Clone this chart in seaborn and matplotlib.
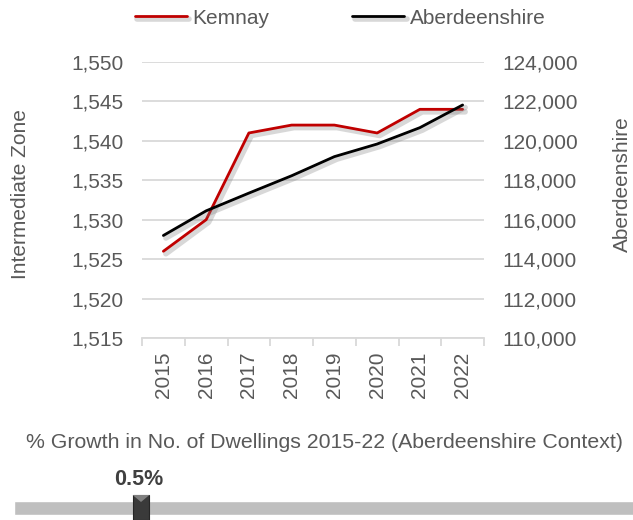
import numpy as np
import pandas as pd
import matplotlib
matplotlib.use("Agg")
import matplotlib.pyplot as plt
import matplotlib.patheffects as pe
from matplotlib.ticker import FuncFormatter
from matplotlib.patches import Rectangle, Polygon
import seaborn as sns

years = ["2015", "2016", "2017", "2018", "2019", "2020", "2021", "2022"]
kemnay = [1526, 1530, 1541, 1542, 1542, 1541, 1544, 1544]
aberdeenshire = [115200, 116450, 117350, 118230, 119200, 119840, 120670, 121820]
growth_pct = 0.5
growth_title = "% Growth in No. of Dwellings 2015-22 (Aberdeenshire Context)"

sns.set_style("white")
plt.rcParams["font.family"] = ["Liberation Sans", "DejaVu Sans"]

grey_txt = "#595959"
grid_col = "#D9D9D9"
red = "#C00000"

df = pd.DataFrame({"pos": np.arange(len(years)), "year": years,
                   "Kemnay": kemnay, "Aberdeenshire": aberdeenshire})

fig = plt.figure(figsize=(6.33, 5.2), dpi=100)
ax = fig.add_axes([142 / 633, 1 - 338 / 520, 342 / 633, 276 / 520])
ax2 = ax.twinx()

shadow = [pe.SimpleLineShadow(offset=(1.8, -1.8), shadow_color="#7f7f7f", alpha=0.3, linewidth=4),
          pe.Normal()]
sns.lineplot(data=df, x="pos", y="Kemnay", ax=ax, color=red, lw=2.0,
             path_effects=shadow, label="Kemnay", legend=False)
sns.lineplot(data=df, x="pos", y="Aberdeenshire", ax=ax2, color="black", lw=2.0,
             path_effects=shadow, label="Aberdeenshire", legend=False)

fs = 15
ax.set_xlim(-0.5, len(years) - 0.5)
ax.set_ylim(1515, 1550)
ax.set_yticks(np.arange(1515, 1551, 5))
ax2.set_ylim(110000, 124000)
ax2.set_yticks(np.arange(110000, 124001, 2000))
comma = FuncFormatter(lambda v, p: f"{v:,.0f}")
ax.yaxis.set_major_formatter(comma)
ax2.yaxis.set_major_formatter(comma)

ax.set_xticks(np.arange(-0.5, len(years)))
ax.set_xticklabels([])
ax.set_xticks(df["pos"], minor=True)
ax.set_xticklabels(years, minor=True, rotation=90)
ax.tick_params(axis="x", which="major", length=6, width=1.3, color=grid_col, bottom=True)
ax.tick_params(axis="x", which="minor", length=0, pad=10, labelsize=fs, labelcolor=grey_txt)
ax.tick_params(axis="y", length=0, pad=13.5, labelsize=fs, labelcolor=grey_txt)
ax2.tick_params(axis="y", length=0, pad=13.5, labelsize=fs, labelcolor=grey_txt)

ax.yaxis.grid(True, color=grid_col, lw=1.3)
ax.xaxis.grid(False)
ax2.grid(False)
for s in ["top", "left", "right"]:
    ax.spines[s].set_visible(False)
    ax2.spines[s].set_visible(False)
ax.spines["bottom"].set_color(grid_col)
ax.spines["bottom"].set_linewidth(1.3)
ax2.spines["bottom"].set_visible(False)
ax.set_xlabel("")
ax.set_ylabel("")
ax2.set_ylabel("")

fig.text(21 / 633, 1 - 194 / 520, "Intermediate Zone", rotation=90, ha="center", va="center",
         fontsize=fs, color=grey_txt)
fig.text(613 / 633, 1 - 184 / 520, "Aberdeenshire", rotation=90, ha="left", va="center",
         fontsize=fs, color=grey_txt)

handles = [ax.get_lines()[0], ax2.get_lines()[0]]
fig.legend(handles, ["Kemnay", "Aberdeenshire"], loc="center", bbox_to_anchor=(340 / 633, 1 - 18 / 520),
           ncol=2, frameon=False, fontsize=fs, labelcolor=grey_txt, handlelength=2.5,
           handletextpad=0.25, columnspacing=4.0)

# growth indicator
fig.text(324.5 / 633, 1 - 448 / 520, growth_title, ha="center", va="baseline",
         fontsize=15.3, color=grey_txt)
ax3 = fig.add_axes([14 / 633, 0, 635 / 633, 25 / 520])
ax3.set_xlim(0, 2.5)
ax3.set_ylim(0, 1)
ax3.axis("off")
ax3.barh(0.486, 2.5, height=0.572, left=0, color="#BFBFBF")
mw = 0.066
ax3.add_patch(Rectangle((growth_pct - mw / 2, 0), mw, 1, facecolor="#3A3A3A",
                        edgecolor="#262626", lw=0.8, clip_on=False))
ax3.add_patch(Polygon([(growth_pct - mw / 2, 1), (growth_pct + mw / 2, 1), (growth_pct, 0.72)],
                      closed=True, facecolor="#808080", edgecolor="none", clip_on=False))
ax3.text(growth_pct - 0.01, 1.4, f"{growth_pct}%", ha="center", va="baseline",
         fontsize=15.5, fontweight="bold", color="#404040")

fig.savefig("out.png", dpi=100)
